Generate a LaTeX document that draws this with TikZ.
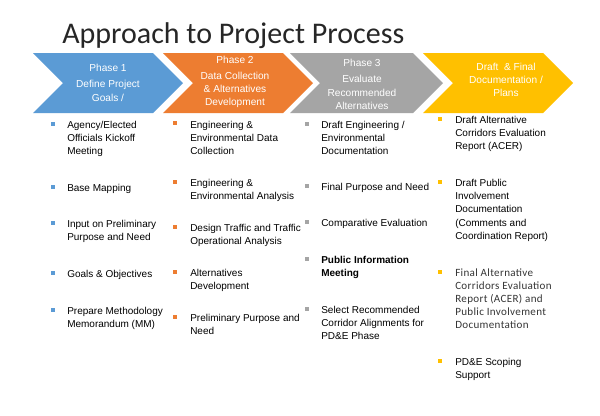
\documentclass[tikz,border=0pt]{standalone}
\usepackage{fontspec}
\setmainfont{Liberation Sans}
\newfontfamily\calibri{Carlito}
\usetikzlibrary{positioning}
\usepackage{xcolor}
\definecolor{myblue}{HTML}{5B9BD5}
\definecolor{myorange}{HTML}{ED7D31}
\definecolor{mygray}{HTML}{A5A5A5}
\definecolor{myyellow}{HTML}{FFC000}
\definecolor{titlegray}{HTML}{262626}
\definecolor{notegray}{HTML}{363636}
\newcommand{\ItemFont}{\fontsize{7.5}{10}\selectfont}
\newcommand{\HeadFont}{\fontsize{7.6}{10}\selectfont}
\newcommand{\NoteFont}{\calibri\addfontfeature{LetterSpace=3}\fontsize{8.3}{9.8}\selectfont}
% chevron: left x, right (tip) x, colour
\newcommand{\Chevron}[3]{\fill[#3] (#1,53) -- (#2-30,53) -- (#2,83) -- (#2-30,113) -- (#1,113) -- (#1+30,83) -- cycle;}

\begin{document}
\begin{tikzpicture}[x=0.75pt,y=-0.75pt,
  head/.style={text=white, align=center, inner sep=0, font=\HeadFont},
  item/.style={anchor=north west, align=left, inner sep=0, font=\ItemFont},
  bul/.style={minimum size=2.4pt, inner sep=0}]
  \fill[white] (0,0) rectangle (600,415);
  \useasboundingbox (0,0) rectangle (600,415);

  \node[anchor=base west, inner sep=0, text=titlegray,
        font=\calibri\fontsize{22.5}{27}\selectfont] (title) at (62,43) {Approach to Project Process};

  % chevrons
  \Chevron{33}{183}{myblue}
  \Chevron{163}{313}{myorange}
  \Chevron{290}{443}{mygray}
  \Chevron{423}{573}{myyellow}
  \node[head] (P1) at (108,83)   {Phase 1\\[2pt] Define Project\\ Goals /};
  \node[head] (P2) at (235,82)   {Phase 2\\[2pt] Data Collection\\ \& Alternatives\\ Development};
  \node[head] (P3) at (362,84.5) {Phase 3\\[2pt] Evaluate\\ Recommended\\ Alternatives};
  \node[head] (P4) at (506,80)   {Draft\ \ \& Final\\ Documentation /\\ Plans};

  % phase 1
  \node[bul, fill=myblue] (bA1) at (53,124) {};
  \node[bul, fill=myblue] (bA2) at (53,187) {};
  \node[bul, fill=myblue] (bA3) at (53,223) {};
  \node[bul, fill=myblue] (bA4) at (53,273) {};
  \node[bul, fill=myblue] (bA5) at (53,310) {};
  \node[item] (A1) at (67,120.5) {Agency/Elected\\ Officials Kickoff\\ Meeting};
  \node[item] (A2) at (67,183.5) {Base Mapping};
  \node[item] (A3) at (67,219.5) {Input on Preliminary\\ Purpose and Need};
  \node[item] (A4) at (67,269.5) {Goals \& Objectives};
  \node[item] (A5) at (67,306.5) {Prepare Methodology\\ Memorandum (MM)};

  % phase 2
  \node[bul, fill=myorange] (bB1) at (175,123) {};
  \node[bul, fill=myorange] (bB2) at (175,182) {};
  \node[bul, fill=myorange] (bB3) at (175,227) {};
  \node[bul, fill=myorange] (bB4) at (175,272) {};
  \node[bul, fill=myorange] (bB5) at (175,317) {};
  \node[item] (B1) at (190,120.5) {Engineering \&\\ Environmental Data\\ Collection};
  \node[item] (B2) at (190,178.5) {Engineering \&\\ Environmental Analysis};
  \node[item] (B3) at (190,223.5) {Design Traffic and Traffic\\ Operational Analysis};
  \node[item] (B4) at (190,268.5) {Alternatives\\ Development};
  \node[item] (B5) at (190,313.5) {Preliminary Purpose and\\ Need};

  % phase 3
  \node[bul, fill=mygray] (bC1) at (307,124) {};
  \node[bul, fill=mygray] (bC2) at (307,186) {};
  \node[bul, fill=mygray] (bC3) at (307,222) {};
  \node[bul, fill=mygray] (bC4) at (307,259) {};
  \node[bul, fill=mygray] (bC5) at (307,309) {};
  \node[item] (C1) at (321,120.5) {Draft Engineering /\\ Environmental\\ Documentation};
  \node[item] (C2) at (321,182.5) {Final Purpose and Need};
  \node[item] (C3) at (321,218.5) {Comparative Evaluation};
  \node[item, font=\ItemFont\bfseries] (C4) at (321,255.5) {Public Information\\ Meeting};
  \node[item] (C5) at (321,305.5) {Select Recommended\\ Corridor Alignments for\\ PD\&E Phase};

  % draft and final
  \node[bul, fill=myyellow] (bD1) at (440,119) {};
  \node[bul, fill=myyellow] (bD2) at (440,182) {};
  \node[bul, fill=myyellow] (bD3) at (440,272) {};
  \node[bul, fill=myyellow] (bD4) at (440,361) {};
  \node[item] (D1) at (455,115.5) {Draft Alternative\\ Corridors Evaluation\\ Report (ACER)};
  \node[item] (D2) at (455,178.5) {Draft Public\\ Involvement\\ Documentation\\ (Comments and\\ Coordination Report)};
  \node[item, font=\NoteFont, text=notegray] (D3) at (455,268.5) {Final Alternative\\ Corridors Evaluation\\ Report (ACER) and\\ Public Involvement\\ Documentation};
  \node[item] (D4) at (455,357.5) {PD\&E Scoping\\ Support};
\end{tikzpicture}
\end{document}
